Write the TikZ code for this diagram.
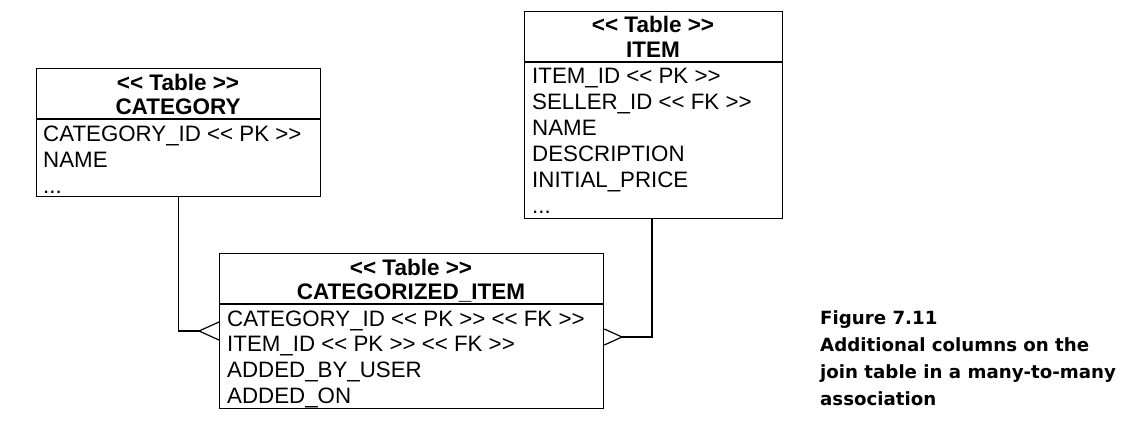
\documentclass[tikz,border=0pt]{standalone}
\usepackage{fontspec}
\setmainfont{Liberation Sans}[Ligatures=TeXOff]
\newfontfamily\capfont{DejaVu Sans}
\begin{document}
\begin{tikzpicture}[x=1pt,y=-1pt,
  tbl/.style={draw, line width=1.3pt, anchor=north west, inner sep=0pt},
  hdr/.style={anchor=base, inner sep=0pt, font=\fontsize{22.5}{26}\selectfont\bfseries},
  row/.style={anchor=base west, inner sep=0pt, font=\fontsize{22.3}{26}\selectfont},
  captext/.style={anchor=base west, inner sep=0pt, font=\fontsize{18.2}{22}\capfont\bfseries},
  conn/.style={line width=1.2pt}]
\useasboundingbox (0,0) rectangle (1122,437);
% CATEGORY
\node[tbl, minimum width=284pt, minimum height=128pt] (cat) at (36,68) {};
\draw[line width=1.2pt] (36,119) -- (320,119);
\node[hdr] (catst) at (178,90) {<< Table >>};
\node[hdr] (catnm) at (178,114) {CATEGORY};
\node[row] (cat1) at (43,141) {CATEGORY\_ID << PK >>};
\node[row] (cat2) at (43,167) {NAME};
\node[row] (cat3) at (43,193) {...};
% ITEM
\node[tbl, minimum width=258pt, minimum height=207pt] (item) at (524,11) {};
\draw[line width=1.2pt] (524,62) -- (782,62);
\node[hdr] (itemst) at (653,32) {<< Table >>};
\node[hdr] (itemnm) at (653,57) {ITEM};
\node[row] (item1) at (532,83) {ITEM\_ID << PK >>};
\node[row] (item2) at (532,109) {SELLER\_ID << FK >>};
\node[row] (item3) at (532,135) {NAME};
\node[row] (item4) at (532,161) {DESCRIPTION};
\node[row] (item5) at (532,187) {INITIAL\_PRICE};
\node[row] (item6) at (532,213) {...};
% CATEGORIZED_ITEM
\node[tbl, minimum width=384pt, minimum height=155pt] (ci) at (219,253) {};
\draw[line width=1.2pt] (219,304) -- (603,304);
\node[hdr] (cist) at (411,275) {<< Table >>};
\node[hdr] (cinm) at (411,299) {CATEGORIZED\_ITEM};
\node[row] (ci1) at (227,326) {CATEGORY\_ID << PK >> << FK >>};
\node[row] (ci2) at (227,351) {ITEM\_ID << PK >> << FK >>};
\node[row] (ci3) at (227,377) {ADDED\_BY\_USER};
\node[row] (ci4) at (227,403) {ADDED\_ON};
% connectors
\coordinate (lv) at (199,331);
\coordinate (rv) at (622,337);
\draw[conn] (cat.south) |- (lv);
\draw[conn] (ci.west |- 0,322) -- (lv) -- (ci.west |- 0,340);
\draw[conn] (item.south -| 652,0) |- (rv);
\draw[conn] (ci.east |- 0,329) -- (rv) -- (ci.east |- 0,345);
% caption
\node[captext] (c1) at (820,324) {Figure 7.11};
\node[captext] (c2) at (820,351) {Additional columns on the};
\node[captext] (c3) at (820,378) {join table in a many-to-many};
\node[captext] (c4) at (820,405) {association};
\end{tikzpicture}
\end{document}
